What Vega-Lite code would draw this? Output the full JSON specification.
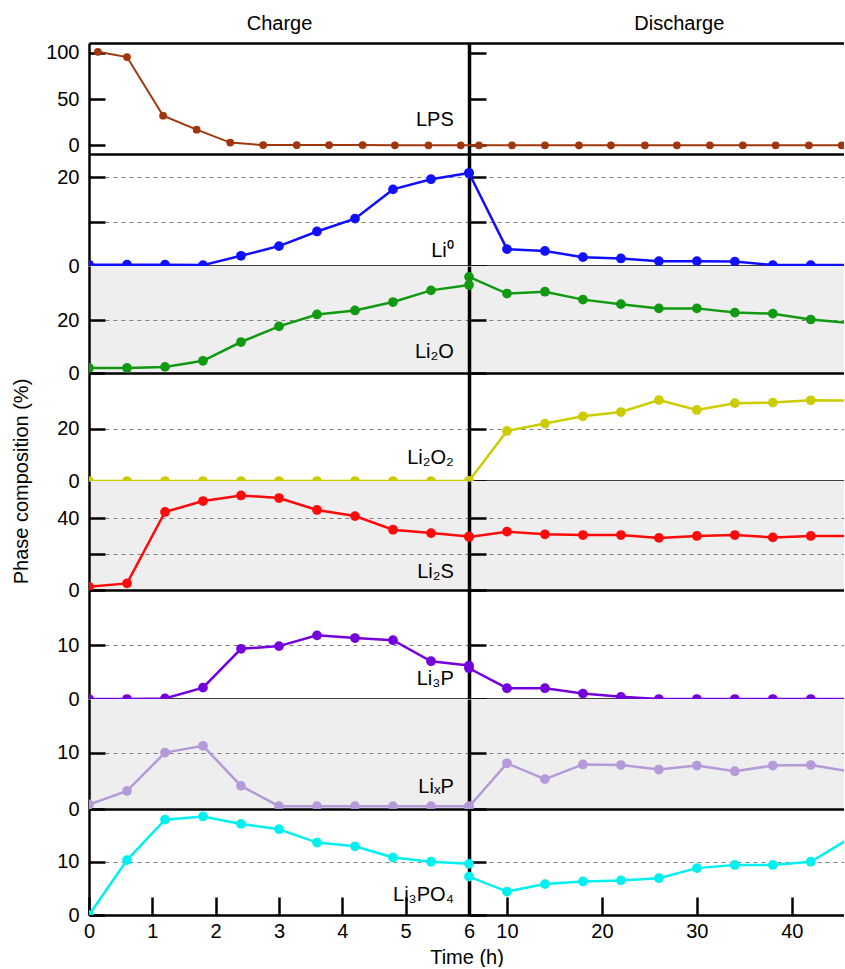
{
"$schema": "https://vega.github.io/schema/vega-lite/v6.json",
"background": "white",
"padding": {"left": 10, "top": 13, "right": 0, "bottom": 0},
"spacing": 0,
"bounds": "flush",
"config": {
 "font": "Liberation Sans",
 "view": {"stroke": null},
 "axis": {"domainColor": "black", "tickColor": "black", "labelColor": "black", "titleColor": "black", "labelFontSize": 20, "titleFontSize": 20, "titleFontWeight": "normal", "domainWidth": 2.5, "tickWidth": 2.5, "labelFlush": false, "labelOverlap": false, "gridColor": "#808080", "gridDash": [4, 4], "gridWidth": 1},
 "line": {"strokeWidth": 2.5},
 "point": {"filled": true, "opacity": 1, "size": 95}
},
"datasets": {
 "d": [
  {"p":"LPS","s":"C","t":0.14,"v":101},{"p":"LPS","s":"C","t":0.6,"v":95.3},{"p":"LPS","s":"C","t":1.17,"v":32},{"p":"LPS","s":"C","t":1.7,"v":16.9},{"p":"LPS","s":"C","t":2.23,"v":2.9},{"p":"LPS","s":"C","t":2.75,"v":0.2},{"p":"LPS","s":"C","t":3.28,"v":0.2},{"p":"LPS","s":"C","t":3.79,"v":0.2},{"p":"LPS","s":"C","t":4.32,"v":0.2},{"p":"LPS","s":"C","t":4.83,"v":0},{"p":"LPS","s":"C","t":5.36,"v":0},{"p":"LPS","s":"C","t":5.87,"v":0},
  {"p":"LPS","s":"C","t":7.05,"v":0},{"p":"LPS","s":"C","t":10.53,"v":0},{"p":"LPS","s":"C","t":14.0,"v":0},{"p":"LPS","s":"C","t":17.58,"v":0},{"p":"LPS","s":"C","t":20.95,"v":0},{"p":"LPS","s":"C","t":24.53,"v":0},{"p":"LPS","s":"C","t":27.9,"v":0},{"p":"LPS","s":"C","t":31.37,"v":0},{"p":"LPS","s":"C","t":34.84,"v":0},{"p":"LPS","s":"C","t":38.3,"v":0},{"p":"LPS","s":"C","t":41.8,"v":0},{"p":"LPS","s":"C","t":45.26,"v":0},

  {"p":"Li0","s":"C","t":0,"v":0.3},{"p":"Li0","s":"C","t":0.6,"v":0.3},{"p":"Li0","s":"C","t":1.2,"v":0.3},{"p":"Li0","s":"C","t":1.8,"v":0.2},{"p":"Li0","s":"C","t":2.4,"v":2.3},{"p":"Li0","s":"C","t":3,"v":4.5},{"p":"Li0","s":"C","t":3.6,"v":7.8},{"p":"Li0","s":"C","t":4.2,"v":10.7},{"p":"Li0","s":"C","t":4.8,"v":17.3},{"p":"Li0","s":"C","t":5.4,"v":19.6},{"p":"Li0","s":"C","t":6,"v":21.0},
  {"p":"Li0","s":"D","t":6,"v":21.0},{"p":"Li0","s":"D","t":10,"v":3.8},{"p":"Li0","s":"D","t":14,"v":3.4},{"p":"Li0","s":"D","t":18,"v":2.0},{"p":"Li0","s":"D","t":22,"v":1.7},{"p":"Li0","s":"D","t":26,"v":1.1},{"p":"Li0","s":"D","t":30,"v":1.1},{"p":"Li0","s":"D","t":34,"v":1.0},{"p":"Li0","s":"D","t":38,"v":0.2},{"p":"Li0","s":"D","t":42,"v":0.2},{"p":"Li0","s":"D","t":46,"v":0.2},

  {"p":"Li2O","s":"C","t":0,"v":1.9},{"p":"Li2O","s":"C","t":0.6,"v":1.9},{"p":"Li2O","s":"C","t":1.2,"v":2.3},{"p":"Li2O","s":"C","t":1.8,"v":4.6},{"p":"Li2O","s":"C","t":2.4,"v":11.7},{"p":"Li2O","s":"C","t":3,"v":17.6},{"p":"Li2O","s":"C","t":3.6,"v":22.1},{"p":"Li2O","s":"C","t":4.2,"v":23.6},{"p":"Li2O","s":"C","t":4.8,"v":26.8},{"p":"Li2O","s":"C","t":5.4,"v":31.2},{"p":"Li2O","s":"C","t":6,"v":33.2},
  {"p":"Li2O","s":"D","t":6,"v":36.3},{"p":"Li2O","s":"D","t":10,"v":30.0},{"p":"Li2O","s":"D","t":14,"v":30.7},{"p":"Li2O","s":"D","t":18,"v":27.7},{"p":"Li2O","s":"D","t":22,"v":26.0},{"p":"Li2O","s":"D","t":26,"v":24.4},{"p":"Li2O","s":"D","t":30,"v":24.4},{"p":"Li2O","s":"D","t":34,"v":22.8},{"p":"Li2O","s":"D","t":38,"v":22.4},{"p":"Li2O","s":"D","t":42,"v":20.2},{"p":"Li2O","s":"D","t":46,"v":18.9},

  {"p":"Li2O2","s":"C","t":0,"v":0},{"p":"Li2O2","s":"C","t":0.6,"v":0},{"p":"Li2O2","s":"C","t":1.2,"v":0},{"p":"Li2O2","s":"C","t":1.8,"v":0},{"p":"Li2O2","s":"C","t":2.4,"v":0},{"p":"Li2O2","s":"C","t":3,"v":0},{"p":"Li2O2","s":"C","t":3.6,"v":0},{"p":"Li2O2","s":"C","t":4.2,"v":0},{"p":"Li2O2","s":"C","t":4.8,"v":0},{"p":"Li2O2","s":"C","t":5.4,"v":0},{"p":"Li2O2","s":"C","t":6,"v":0},
  {"p":"Li2O2","s":"D","t":6,"v":0},{"p":"Li2O2","s":"D","t":10,"v":19.1},{"p":"Li2O2","s":"D","t":14,"v":21.9},{"p":"Li2O2","s":"D","t":18,"v":24.7},{"p":"Li2O2","s":"D","t":22,"v":26.3},{"p":"Li2O2","s":"D","t":26,"v":30.9},{"p":"Li2O2","s":"D","t":30,"v":27.1},{"p":"Li2O2","s":"D","t":34,"v":29.7},{"p":"Li2O2","s":"D","t":38,"v":29.9},{"p":"Li2O2","s":"D","t":42,"v":30.8},{"p":"Li2O2","s":"D","t":46,"v":30.7},

  {"p":"Li2S","s":"C","t":0,"v":1.8},{"p":"Li2S","s":"C","t":0.6,"v":3.7},{"p":"Li2S","s":"C","t":1.2,"v":43.6},{"p":"Li2S","s":"C","t":1.8,"v":49.7},{"p":"Li2S","s":"C","t":2.4,"v":52.8},{"p":"Li2S","s":"C","t":3,"v":51.4},{"p":"Li2S","s":"C","t":3.6,"v":44.7},{"p":"Li2S","s":"C","t":4.2,"v":41.3},{"p":"Li2S","s":"C","t":4.8,"v":33.7},{"p":"Li2S","s":"C","t":5.4,"v":31.8},{"p":"Li2S","s":"C","t":6,"v":29.9},
  {"p":"Li2S","s":"D","t":6,"v":29.6},{"p":"Li2S","s":"D","t":10,"v":32.6},{"p":"Li2S","s":"D","t":14,"v":31.1},{"p":"Li2S","s":"D","t":18,"v":30.7},{"p":"Li2S","s":"D","t":22,"v":30.7},{"p":"Li2S","s":"D","t":26,"v":29.1},{"p":"Li2S","s":"D","t":30,"v":30.2},{"p":"Li2S","s":"D","t":34,"v":30.7},{"p":"Li2S","s":"D","t":38,"v":29.4},{"p":"Li2S","s":"D","t":42,"v":30.2},{"p":"Li2S","s":"D","t":46,"v":30.2},

  {"p":"Li3P","s":"C","t":0,"v":0},{"p":"Li3P","s":"C","t":0.6,"v":0},{"p":"Li3P","s":"C","t":1.2,"v":0.1},{"p":"Li3P","s":"C","t":1.8,"v":2.1},{"p":"Li3P","s":"C","t":2.4,"v":9.3},{"p":"Li3P","s":"C","t":3,"v":9.8},{"p":"Li3P","s":"C","t":3.6,"v":11.8},{"p":"Li3P","s":"C","t":4.2,"v":11.3},{"p":"Li3P","s":"C","t":4.8,"v":10.9},{"p":"Li3P","s":"C","t":5.4,"v":7.0},{"p":"Li3P","s":"C","t":6,"v":6.2},
  {"p":"Li3P","s":"D","t":6,"v":5.7},{"p":"Li3P","s":"D","t":10,"v":2.0},{"p":"Li3P","s":"D","t":14,"v":2.0},{"p":"Li3P","s":"D","t":18,"v":1.0},{"p":"Li3P","s":"D","t":22,"v":0.4},{"p":"Li3P","s":"D","t":26,"v":0},{"p":"Li3P","s":"D","t":30,"v":0},{"p":"Li3P","s":"D","t":34,"v":0},{"p":"Li3P","s":"D","t":38,"v":0},{"p":"Li3P","s":"D","t":42,"v":0},{"p":"Li3P","s":"D","t":46,"v":0},

  {"p":"LixP","s":"C","t":0,"v":0.8},{"p":"LixP","s":"C","t":0.6,"v":3.2},{"p":"LixP","s":"C","t":1.2,"v":10.0},{"p":"LixP","s":"C","t":1.8,"v":11.2},{"p":"LixP","s":"C","t":2.4,"v":4.1},{"p":"LixP","s":"C","t":3,"v":0.5},{"p":"LixP","s":"C","t":3.6,"v":0.5},{"p":"LixP","s":"C","t":4.2,"v":0.5},{"p":"LixP","s":"C","t":4.8,"v":0.5},{"p":"LixP","s":"C","t":5.4,"v":0.5},{"p":"LixP","s":"C","t":6,"v":0.5},
  {"p":"LixP","s":"D","t":6,"v":0.4},{"p":"LixP","s":"D","t":10,"v":8.1},{"p":"LixP","s":"D","t":14,"v":5.3},{"p":"LixP","s":"D","t":18,"v":7.9},{"p":"LixP","s":"D","t":22,"v":7.8},{"p":"LixP","s":"D","t":26,"v":7.0},{"p":"LixP","s":"D","t":30,"v":7.7},{"p":"LixP","s":"D","t":34,"v":6.7},{"p":"LixP","s":"D","t":38,"v":7.7},{"p":"LixP","s":"D","t":42,"v":7.8},{"p":"LixP","s":"D","t":46,"v":6.7},

  {"p":"Li3PO4","s":"C","t":0,"v":0},{"p":"Li3PO4","s":"C","t":0.6,"v":10.3},{"p":"Li3PO4","s":"C","t":1.2,"v":17.9},{"p":"Li3PO4","s":"C","t":1.8,"v":18.5},{"p":"Li3PO4","s":"C","t":2.4,"v":17.1},{"p":"Li3PO4","s":"C","t":3,"v":16.1},{"p":"Li3PO4","s":"C","t":3.6,"v":13.6},{"p":"Li3PO4","s":"C","t":4.2,"v":12.9},{"p":"Li3PO4","s":"C","t":4.8,"v":10.8},{"p":"Li3PO4","s":"C","t":5.4,"v":10.0},{"p":"Li3PO4","s":"C","t":6,"v":9.6},
  {"p":"Li3PO4","s":"D","t":6,"v":7.2},{"p":"Li3PO4","s":"D","t":10,"v":4.4},{"p":"Li3PO4","s":"D","t":14,"v":5.8},{"p":"Li3PO4","s":"D","t":18,"v":6.3},{"p":"Li3PO4","s":"D","t":22,"v":6.5},{"p":"Li3PO4","s":"D","t":26,"v":6.9},{"p":"Li3PO4","s":"D","t":30,"v":8.8},{"p":"Li3PO4","s":"D","t":34,"v":9.4},{"p":"Li3PO4","s":"D","t":38,"v":9.4},{"p":"Li3PO4","s":"D","t":42,"v":10.0},{"p":"Li3PO4","s":"D","t":46,"v":14.3}
 ],
 "lab": [
  {"p":"LPS","n":"LPS","t":5.76,"v":20.8},
  {"p":"Li0","n":"Li⁰","t":5.76,"v":2.0},
  {"p":"Li2O","n":"Li₂O","t":5.76,"v":5.5},
  {"p":"Li2O2","n":"Li₂O₂","t":5.76,"v":6.5},
  {"p":"Li2S","n":"Li₂S","t":5.76,"v":6.5},
  {"p":"Li3P","n":"Li₃P","t":5.76,"v":2.6},
  {"p":"LixP","n":"LiₓP","t":5.76,"v":2.8},
  {"p":"Li3PO4","n":"Li₃PO₄","t":5.76,"v":2.6}
 ]
},
"vconcat": [
 {
  "width": 755, "height": 111,
  "layer": [
   {"data": {"name": "d"}, "transform": [{"filter": "datum.p === 'LPS'"}],
    "mark": {"type": "line", "clip": true, "strokeWidth": 2},
    "encoding": {
     "x": {"field": "t", "type": "quantitative", "scale": {"type": "linear", "domain": [0, 6, 45.5], "range": [0, 380, 755], "nice": false, "zero": false}, "axis": {"orient": "top", "values": [3, 28.1], "labelExpr": "datum.value < 10 ? 'Charge' : 'Discharge'", "ticks": false, "grid": false, "title": null, "labelPadding": 9.5}},
     "y": {"field": "v", "type": "quantitative", "scale": {"domain": [-9.4, 110.5], "nice": false, "zero": false}, "axis": {"values": [0, 50, 100], "grid": false, "title": null, "tickSize": -16, "labelPadding": 26}},
     "color": {"field": "p", "type": "nominal", "legend": null, "scale": {"domain": ["LPS","Li0","Li2O","Li2O2","Li2S","Li3P","LixP","Li3PO4"], "range": ["#a0360c","#1010ff","#129912","#cccc00","#ff0a0a","#7400dc","#b49ad8","#00f0f0"]}},
     "detail": {"field": "s"}
    }},
   {"data": {"name": "d"}, "transform": [{"filter": "datum.p === 'LPS'"}],
    "mark": {"type": "point", "clip": true, "size": 60},
    "encoding": {
     "x": {"field": "t", "type": "quantitative", "axis": {"orient": "bottom", "ticks": false, "labels": false, "grid": false, "title": null}},
     "y": {"field": "v", "type": "quantitative", "axis": {"orient": "left", "offset": -380, "values": [0, 50, 100], "labels": false, "grid": false, "title": null, "tickSize": -17, "domainWidth": 3.5}},
     "color": {"field": "p", "type": "nominal", "legend": null}
    }},
   {"data": {"name": "lab"}, "transform": [{"filter": "datum.p === 'LPS'"}],
    "mark": {"type": "text", "align": "right", "baseline": "alphabetic", "fontSize": 20, "color": "black"},
    "encoding": {
     "x": {"field": "t", "type": "quantitative", "axis": null},
     "y": {"field": "v", "type": "quantitative", "axis": null},
     "text": {"field": "n"}
    }}
  ],
  "resolve": {"axis": {"x": "independent", "y": "independent"}}
 },
 {
  "width": 755, "height": 112,
  "layer": [
   {"data": {"name": "d"}, "transform": [{"filter": "datum.p === 'Li0'"}],
    "mark": {"type": "line", "clip": true},
    "encoding": {
     "x": {"field": "t", "type": "quantitative", "scale": {"type": "linear", "domain": [0, 6, 45.5], "range": [0, 380, 755], "nice": false, "zero": false}, "axis": {"orient": "bottom", "ticks": false, "labels": false, "grid": false, "title": null}},
     "y": {"field": "v", "type": "quantitative", "scale": {"domain": [0, 25.3], "nice": false, "zero": false}, "axis": {"values": [0, 10, 20], "labelExpr": "datum.value == 10 ? '' : datum.label", "grid": true, "title": null, "tickSize": -16, "labelPadding": 26}},
     "color": {"field": "p", "type": "nominal", "legend": null, "scale": {"domain": ["LPS","Li0","Li2O","Li2O2","Li2S","Li3P","LixP","Li3PO4"], "range": ["#a0360c","#1010ff","#129912","#cccc00","#ff0a0a","#7400dc","#b49ad8","#00f0f0"]}},
     "detail": {"field": "s"}
    }},
   {"data": {"name": "d"}, "transform": [{"filter": "datum.p === 'Li0'"}],
    "mark": {"type": "point", "clip": true},
    "encoding": {
     "x": {"field": "t", "type": "quantitative", "axis": null},
     "y": {"field": "v", "type": "quantitative", "axis": {"orient": "left", "offset": -380, "values": [0, 10, 20], "labels": false, "grid": false, "title": null, "tickSize": -17, "domainWidth": 3.5}},
     "color": {"field": "p", "type": "nominal", "legend": null}
    }},
   {"data": {"name": "lab"}, "transform": [{"filter": "datum.p === 'Li0'"}],
    "mark": {"type": "text", "align": "right", "baseline": "alphabetic", "fontSize": 20, "color": "black"},
    "encoding": {
     "x": {"field": "t", "type": "quantitative", "axis": null},
     "y": {"field": "v", "type": "quantitative", "axis": null},
     "text": {"field": "n"}
    }}
  ],
  "resolve": {"axis": {"x": "independent", "y": "independent"}}
 },
 {
  "width": 755, "height": 107,
  "view": {"fill": "#eeeeee", "stroke": null},
  "layer": [
   {"data": {"name": "d"}, "transform": [{"filter": "datum.p === 'Li2O'"}],
    "mark": {"type": "line", "clip": true},
    "encoding": {
     "x": {"field": "t", "type": "quantitative", "scale": {"type": "linear", "domain": [0, 6, 45.5], "range": [0, 380, 755], "nice": false, "zero": false}, "axis": {"orient": "bottom", "ticks": false, "labels": false, "grid": false, "title": null}},
     "y": {"field": "v", "type": "quantitative", "scale": {"domain": [0, 40.4], "nice": false, "zero": false}, "axis": {"values": [0, 20], "grid": true, "title": null, "tickSize": -16, "labelPadding": 26}},
     "color": {"field": "p", "type": "nominal", "legend": null, "scale": {"domain": ["LPS","Li0","Li2O","Li2O2","Li2S","Li3P","LixP","Li3PO4"], "range": ["#a0360c","#1010ff","#129912","#cccc00","#ff0a0a","#7400dc","#b49ad8","#00f0f0"]}},
     "detail": {"field": "s"}
    }},
   {"data": {"name": "d"}, "transform": [{"filter": "datum.p === 'Li2O'"}],
    "mark": {"type": "point", "clip": true},
    "encoding": {
     "x": {"field": "t", "type": "quantitative", "axis": null},
     "y": {"field": "v", "type": "quantitative", "axis": {"orient": "left", "offset": -380, "values": [0, 20], "labels": false, "grid": false, "title": null, "tickSize": -17, "domainWidth": 3.5}},
     "color": {"field": "p", "type": "nominal", "legend": null}
    }},
   {"data": {"name": "lab"}, "transform": [{"filter": "datum.p === 'Li2O'"}],
    "mark": {"type": "text", "align": "right", "baseline": "alphabetic", "fontSize": 20, "color": "black"},
    "encoding": {
     "x": {"field": "t", "type": "quantitative", "axis": null},
     "y": {"field": "v", "type": "quantitative", "axis": null},
     "text": {"field": "n"}
    }}
  ],
  "resolve": {"axis": {"x": "independent", "y": "independent"}}
 },
 {
  "width": 755, "height": 108,
  "layer": [
   {"data": {"name": "d"}, "transform": [{"filter": "datum.p === 'Li2O2'"}],
    "mark": {"type": "line", "clip": true},
    "encoding": {
     "x": {"field": "t", "type": "quantitative", "scale": {"type": "linear", "domain": [0, 6, 45.5], "range": [0, 380, 755], "nice": false, "zero": false}, "axis": {"orient": "bottom", "ticks": false, "labels": false, "grid": false, "title": null}},
     "y": {"field": "v", "type": "quantitative", "scale": {"domain": [0, 41.2], "nice": false, "zero": false}, "axis": {"values": [0, 20], "grid": true, "title": "Phase composition (%)", "titleX": -58, "titleY": 108, "titleAngle": 270, "titleAlign": "center", "titleBaseline": "bottom", "tickSize": -16, "labelPadding": 26}},
     "color": {"field": "p", "type": "nominal", "legend": null, "scale": {"domain": ["LPS","Li0","Li2O","Li2O2","Li2S","Li3P","LixP","Li3PO4"], "range": ["#a0360c","#1010ff","#129912","#cccc00","#ff0a0a","#7400dc","#b49ad8","#00f0f0"]}},
     "detail": {"field": "s"}
    }},
   {"data": {"name": "d"}, "transform": [{"filter": "datum.p === 'Li2O2'"}],
    "mark": {"type": "point", "clip": true},
    "encoding": {
     "x": {"field": "t", "type": "quantitative", "axis": null},
     "y": {"field": "v", "type": "quantitative", "axis": {"orient": "left", "offset": -380, "values": [0, 20], "labels": false, "grid": false, "title": null, "tickSize": -17, "domainWidth": 3.5}},
     "color": {"field": "p", "type": "nominal", "legend": null}
    }},
   {"data": {"name": "lab"}, "transform": [{"filter": "datum.p === 'Li2O2'"}],
    "mark": {"type": "text", "align": "right", "baseline": "alphabetic", "fontSize": 20, "color": "black"},
    "encoding": {
     "x": {"field": "t", "type": "quantitative", "axis": null},
     "y": {"field": "v", "type": "quantitative", "axis": null},
     "text": {"field": "n"}
    }}
  ],
  "resolve": {"axis": {"x": "independent", "y": "independent"}}
 },
 {
  "width": 755, "height": 109,
  "view": {"fill": "#eeeeee", "stroke": null},
  "layer": [
   {"data": {"name": "d"}, "transform": [{"filter": "datum.p === 'Li2S'"}],
    "mark": {"type": "line", "clip": true},
    "encoding": {
     "x": {"field": "t", "type": "quantitative", "scale": {"type": "linear", "domain": [0, 6, 45.5], "range": [0, 380, 755], "nice": false, "zero": false}, "axis": {"orient": "bottom", "ticks": false, "labels": false, "grid": false, "title": null}},
     "y": {"field": "v", "type": "quantitative", "scale": {"domain": [0, 60.9], "nice": false, "zero": false}, "axis": {"values": [0, 20, 40], "labelExpr": "datum.value == 20 ? '' : datum.label", "grid": true, "title": null, "tickSize": -16, "labelPadding": 26}},
     "color": {"field": "p", "type": "nominal", "legend": null, "scale": {"domain": ["LPS","Li0","Li2O","Li2O2","Li2S","Li3P","LixP","Li3PO4"], "range": ["#a0360c","#1010ff","#129912","#cccc00","#ff0a0a","#7400dc","#b49ad8","#00f0f0"]}},
     "detail": {"field": "s"}
    }},
   {"data": {"name": "d"}, "transform": [{"filter": "datum.p === 'Li2S'"}],
    "mark": {"type": "point", "clip": true},
    "encoding": {
     "x": {"field": "t", "type": "quantitative", "axis": null},
     "y": {"field": "v", "type": "quantitative", "axis": {"orient": "left", "offset": -380, "values": [0, 20, 40], "labels": false, "grid": false, "title": null, "tickSize": -17, "domainWidth": 3.5}},
     "color": {"field": "p", "type": "nominal", "legend": null}
    }},
   {"data": {"name": "lab"}, "transform": [{"filter": "datum.p === 'Li2S'"}],
    "mark": {"type": "text", "align": "right", "baseline": "alphabetic", "fontSize": 20, "color": "black"},
    "encoding": {
     "x": {"field": "t", "type": "quantitative", "axis": null},
     "y": {"field": "v", "type": "quantitative", "axis": null},
     "text": {"field": "n"}
    }}
  ],
  "resolve": {"axis": {"x": "independent", "y": "independent"}}
 },
 {
  "width": 755, "height": 109,
  "layer": [
   {"data": {"name": "d"}, "transform": [{"filter": "datum.p === 'Li3P'"}],
    "mark": {"type": "line", "clip": true},
    "encoding": {
     "x": {"field": "t", "type": "quantitative", "scale": {"type": "linear", "domain": [0, 6, 45.5], "range": [0, 380, 755], "nice": false, "zero": false}, "axis": {"orient": "bottom", "ticks": false, "labels": false, "grid": false, "title": null}},
     "y": {"field": "v", "type": "quantitative", "scale": {"domain": [0, 20.2], "nice": false, "zero": false}, "axis": {"values": [0, 10], "grid": true, "title": null, "tickSize": -16, "labelPadding": 26}},
     "color": {"field": "p", "type": "nominal", "legend": null, "scale": {"domain": ["LPS","Li0","Li2O","Li2O2","Li2S","Li3P","LixP","Li3PO4"], "range": ["#a0360c","#1010ff","#129912","#cccc00","#ff0a0a","#7400dc","#b49ad8","#00f0f0"]}},
     "detail": {"field": "s"}
    }},
   {"data": {"name": "d"}, "transform": [{"filter": "datum.p === 'Li3P'"}],
    "mark": {"type": "point", "clip": true},
    "encoding": {
     "x": {"field": "t", "type": "quantitative", "axis": null},
     "y": {"field": "v", "type": "quantitative", "axis": {"orient": "left", "offset": -380, "values": [0, 10], "labels": false, "grid": false, "title": null, "tickSize": -17, "domainWidth": 3.5}},
     "color": {"field": "p", "type": "nominal", "legend": null}
    }},
   {"data": {"name": "lab"}, "transform": [{"filter": "datum.p === 'Li3P'"}],
    "mark": {"type": "text", "align": "right", "baseline": "alphabetic", "fontSize": 20, "color": "black"},
    "encoding": {
     "x": {"field": "t", "type": "quantitative", "axis": null},
     "y": {"field": "v", "type": "quantitative", "axis": null},
     "text": {"field": "n"}
    }}
  ],
  "resolve": {"axis": {"x": "independent", "y": "independent"}}
 },
 {
  "width": 755, "height": 110,
  "view": {"fill": "#eeeeee", "stroke": null},
  "layer": [
   {"data": {"name": "d"}, "transform": [{"filter": "datum.p === 'LixP'"}],
    "mark": {"type": "line", "clip": true},
    "encoding": {
     "x": {"field": "t", "type": "quantitative", "scale": {"type": "linear", "domain": [0, 6, 45.5], "range": [0, 380, 755], "nice": false, "zero": false}, "axis": {"orient": "bottom", "ticks": false, "labels": false, "grid": false, "title": null}},
     "y": {"field": "v", "type": "quantitative", "scale": {"domain": [0, 19.5], "nice": false, "zero": false}, "axis": {"values": [0, 10], "grid": true, "title": null, "tickSize": -16, "labelPadding": 26}},
     "color": {"field": "p", "type": "nominal", "legend": null, "scale": {"domain": ["LPS","Li0","Li2O","Li2O2","Li2S","Li3P","LixP","Li3PO4"], "range": ["#a0360c","#1010ff","#129912","#cccc00","#ff0a0a","#7400dc","#b49ad8","#00f0f0"]}},
     "detail": {"field": "s"}
    }},
   {"data": {"name": "d"}, "transform": [{"filter": "datum.p === 'LixP'"}],
    "mark": {"type": "point", "clip": true},
    "encoding": {
     "x": {"field": "t", "type": "quantitative", "axis": null},
     "y": {"field": "v", "type": "quantitative", "axis": {"orient": "left", "offset": -380, "values": [0, 10], "labels": false, "grid": false, "title": null, "tickSize": -17, "domainWidth": 3.5}},
     "color": {"field": "p", "type": "nominal", "legend": null}
    }},
   {"data": {"name": "lab"}, "transform": [{"filter": "datum.p === 'LixP'"}],
    "mark": {"type": "text", "align": "right", "baseline": "alphabetic", "fontSize": 20, "color": "black"},
    "encoding": {
     "x": {"field": "t", "type": "quantitative", "axis": null},
     "y": {"field": "v", "type": "quantitative", "axis": null},
     "text": {"field": "n"}
    }}
  ],
  "resolve": {"axis": {"x": "independent", "y": "independent"}}
 },
 {
  "width": 755, "height": 106,
  "layer": [
   {"data": {"name": "d"}, "transform": [{"filter": "datum.p === 'Li3PO4'"}],
    "mark": {"type": "line", "clip": true},
    "encoding": {
     "x": {"field": "t", "type": "quantitative", "scale": {"type": "linear", "domain": [0, 6, 45.5], "range": [0, 380, 755], "nice": false, "zero": false}, "axis": {"orient": "bottom", "values": [0, 1, 2, 3, 4, 5, 6, 10, 20, 30, 40], "tickSize": -18, "labelPadding": 24, "grid": false, "title": "Time (h)", "titlePadding": 6}},
     "y": {"field": "v", "type": "quantitative", "scale": {"domain": [0, 19.9], "nice": false, "zero": false}, "axis": {"values": [0, 10], "grid": true, "title": null, "tickSize": -16, "labelPadding": 26}},
     "color": {"field": "p", "type": "nominal", "legend": null, "scale": {"domain": ["LPS","Li0","Li2O","Li2O2","Li2S","Li3P","LixP","Li3PO4"], "range": ["#a0360c","#1010ff","#129912","#cccc00","#ff0a0a","#7400dc","#b49ad8","#00f0f0"]}},
     "detail": {"field": "s"}
    }},
   {"data": {"name": "d"}, "transform": [{"filter": "datum.p === 'Li3PO4'"}],
    "mark": {"type": "point", "clip": true},
    "encoding": {
     "x": {"field": "t", "type": "quantitative", "axis": null},
     "y": {"field": "v", "type": "quantitative", "axis": {"orient": "left", "offset": -380, "values": [0, 10], "labels": false, "grid": false, "title": null, "tickSize": -17, "domainWidth": 3.5}},
     "color": {"field": "p", "type": "nominal", "legend": null}
    }},
   {"data": {"name": "lab"}, "transform": [{"filter": "datum.p === 'Li3PO4'"}],
    "mark": {"type": "text", "align": "right", "baseline": "alphabetic", "fontSize": 20, "color": "black"},
    "encoding": {
     "x": {"field": "t", "type": "quantitative", "axis": null},
     "y": {"field": "v", "type": "quantitative", "axis": null},
     "text": {"field": "n"}
    }}
  ],
  "resolve": {"axis": {"x": "independent", "y": "independent"}}
 }
]
}
